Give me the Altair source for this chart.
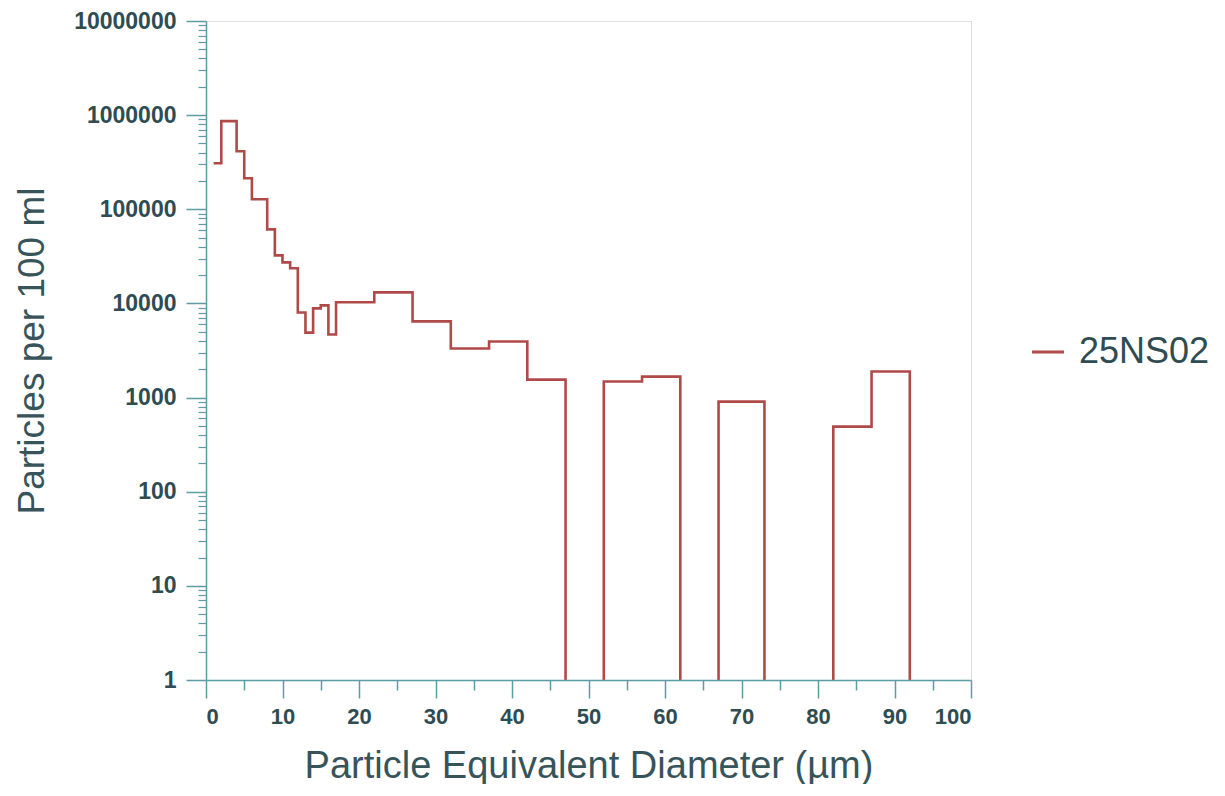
import altair as alt
import pandas as pd

# Bin edges (µm) and particle counts per 100 ml for each bin
bin_edges = [1, 2, 4, 5, 6, 8, 9, 10, 11, 12, 13, 14, 15, 16, 17, 22, 27, 32, 37, 42,
             47, 52, 57, 62, 67, 73, 82, 87, 92]
bin_counts = [308000, 863000, 414000, 214000, 128000, 61200, 32400, 27300, 23600, 8000,
              4900, 8850, 9530, 4680, 10300, 13100, 6440, 3320, 3940, 1550,
              0, 1480, 1670, 0, 906, 0, 491, 1890]
series_name = "25NS02"

x_ticks = [0, 10, 20, 30, 40, 50, 60, 70, 80, 90, 100]
x_minor = [5, 15, 25, 35, 45, 55, 65, 75, 85, 95]
y_ticks = [1, 10, 100, 1000, 10000, 100000, 1000000, 10000000]
y_minor = [k * d for d in y_ticks[:-1] for k in range(2, 10)]

# step-after: each edge carries the value of the bin that follows it; last edge drops to zero
df = pd.DataFrame({
    "d": bin_edges,
    "v": bin_counts + [0],
    "s": [series_name] * len(bin_edges),
})

LINE = "#b04a48"
AXC = "#5e9ca3"
LAB = "#2e4c52"
TIT = "#37545a"
FONT = "Liberation Sans"

xscale = alt.Scale(domain=[0, 100], nice=False)
yscale = alt.Scale(type="log", domain=[1, 10000000], nice=False)

major_x = alt.Axis(values=x_ticks, orient="bottom", title="Particle Equivalent Diameter (µm)",
                   grid=False, domainColor=AXC, domainWidth=1.5, tickColor=AXC, tickWidth=1.5,
                   tickSize=18, labelFont=FONT, labelFontSize=22, labelFontWeight="bold",
                   labelColor=LAB, labelPadding=8, titleFont=FONT, titleFontSize=38,
                   titleFontWeight="normal", titleColor=TIT, titlePadding=20, zindex=1)
major_y = alt.Axis(values=y_ticks, orient="left", format="d", title="Particles per 100 ml",
                   grid=False, domainColor=AXC, domainWidth=1.5, tickColor=AXC, tickWidth=1.5,
                   tickSize=20, labelFont=FONT, labelFontSize=23, labelFontWeight="bold",
                   labelColor=LAB, labelPadding=10, titleFont=FONT, titleFontSize=37,
                   titleFontWeight="normal", titleColor=TIT, titlePadding=22, zindex=1)
minor_x = alt.Axis(values=x_minor, orient="bottom", labels=False, title=None, domain=False,
                   grid=False, tickColor=AXC, tickWidth=1.5, tickSize=10)
minor_y = alt.Axis(values=y_minor, orient="left", labels=False, title=None, domain=False,
                   grid=False, tickColor=AXC, tickWidth=1.2, tickSize=8)

# empty bins are sent below the axis floor so the line drops to the axis and is clipped there
base = alt.Chart(df).transform_calculate(vv="datum.v > 0 ? datum.v : 0.1")

minor = base.mark_line(opacity=0, clip=True).encode(
    x=alt.X("d:Q", scale=xscale, axis=minor_x),
    y=alt.Y("vv:Q", scale=yscale, axis=minor_y),
)

line = base.mark_line(interpolate="step-after", strokeWidth=2.6, clip=True).encode(
    x=alt.X("d:Q", scale=xscale, axis=major_x),
    y=alt.Y("vv:Q", scale=yscale, axis=major_y),
    color=alt.Color("s:N", scale=alt.Scale(domain=[series_name], range=[LINE]),
                    legend=alt.Legend(title=None, orient="none", legendX=824, legendY=313,
                                      symbolType="stroke", symbolSize=1024,
                                      symbolStrokeWidth=3, labelFont=FONT, labelFontSize=36,
                                      labelColor=LAB, labelOffset=13, padding=0)),
)

chart = alt.layer(minor, line).resolve_axis(x="independent", y="independent").properties(
    width=765, height=659,
    autosize=alt.AutoSizeParams(type="none"),
    padding={"left": 198, "top": 13, "right": 240, "bottom": 104},
).configure_view(stroke="#9db5b9", strokeWidth=1.5).configure(background="white")

chart.save("out.html", embed_options={"renderer": "svg", "actions": False})
